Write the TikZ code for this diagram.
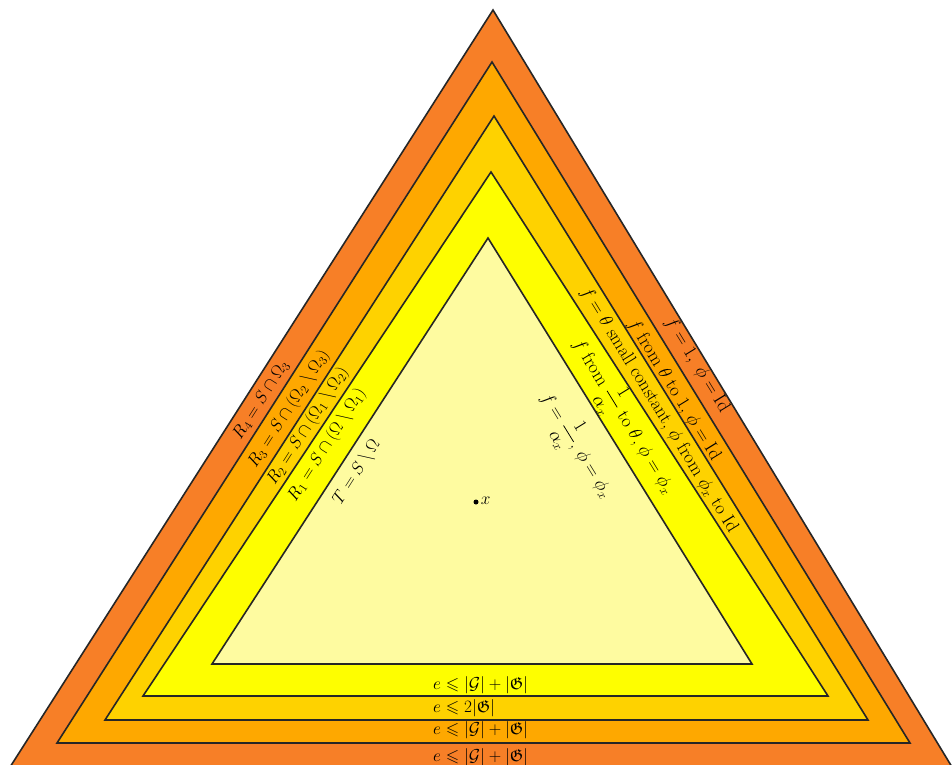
\documentclass[tikz,border=0pt]{standalone}
\usepackage{amsmath,amssymb}
\definecolor{cfour}{HTML}{F77F27}
\definecolor{cthree}{HTML}{FEA800}
\definecolor{ctwo}{HTML}{FED200}
\definecolor{cone}{HTML}{FEFE00}
\definecolor{czero}{HTML}{FEFBA0}
\begin{document}
\begin{tikzpicture}[x=1pt,y=-1pt,
  band/.style={draw=black!85, line width=1.6pt, line join=miter},
  lab/.style={font=\LARGE, inner sep=0pt},
  leftlab/.style={lab, rotate=57.4},
  rightlab/.style={lab, rotate=-58.4, scale=1.08, transform shape},
  botlab/.style={lab, anchor=west}]
\useasboundingbox (0,0) rectangle (952,764);
\clip (0,0) rectangle (952,764);
% nested triangles
\filldraw[band, fill=cfour]  (493,10)  -- (-11,800) -- (972,800) -- cycle;
\filldraw[band, fill=cthree] (492,62)  -- (57,743)  -- (910,743) -- cycle;
\filldraw[band, fill=ctwo]   (494,116) -- (105,720) -- (868,720) -- cycle;
\filldraw[band, fill=cone]   (491,172) -- (143,696) -- (828,696) -- cycle;
\filldraw[band, fill=czero]  (488,238) -- (212,664) -- (752,664) -- cycle;
% left labels
\node[leftlab] (r4) at (261,400) {$R_4=S\cap\Omega_3$};
\node[leftlab] (r3) at (289,409) {$R_3=S\cap(\Omega_2\setminus\Omega_3)$};
\node[leftlab] (r2) at (308,426) {$R_2=S\cap(\Omega_1\setminus\Omega_2)$};
\node[leftlab] (r1) at (327,445) {$R_1=S\cap(\Omega\setminus\Omega_1)$};
\node[leftlab] (t)  at (357,472) {$T=S\setminus\Omega$};
% right labels
\node[rightlab] (f4) at (697,365) {$f=1,\ \phi=\mathrm{Id}$};
\node[rightlab] (f3) at (674,390) {$f$ from $\theta$ to $1$, $\phi=\mathrm{Id}$};
\node[rightlab] (f2) at (659,410) {$f=\theta$ small constant, $\phi$ from $\phi_x$ to Id};
\node[rightlab] (f1) at (623,417) {$f$ from $\dfrac{1}{\alpha_x}$ to $\theta$, $\phi=\phi_x$};
\node[rightlab] (f0) at (576,446) {$f=\dfrac{1}{\alpha_x}$, $\phi=\phi_x$};
% bottom labels
\node[botlab] (e1) at (433,685) {$e\leqslant|\mathcal{G}|+|\mathfrak{G}|$};
\node[botlab] (e2) at (433,708) {$e\leqslant 2|\mathfrak{G}|$};
\node[botlab] (e3) at (433,730) {$e\leqslant|\mathcal{G}|+|\mathfrak{G}|$};
\node[botlab] (e4) at (433,757) {$e\leqslant|\mathcal{G}|+|\mathfrak{G}|$};
% point x
\node[circle, fill=black, inner sep=0pt, minimum size=5pt] (xdot) at (476,502) {};
\node[lab, anchor=south west] (xl) at ([xshift=2pt,yshift=-3pt]xdot.east) {$x$};
\end{tikzpicture}
\end{document}
